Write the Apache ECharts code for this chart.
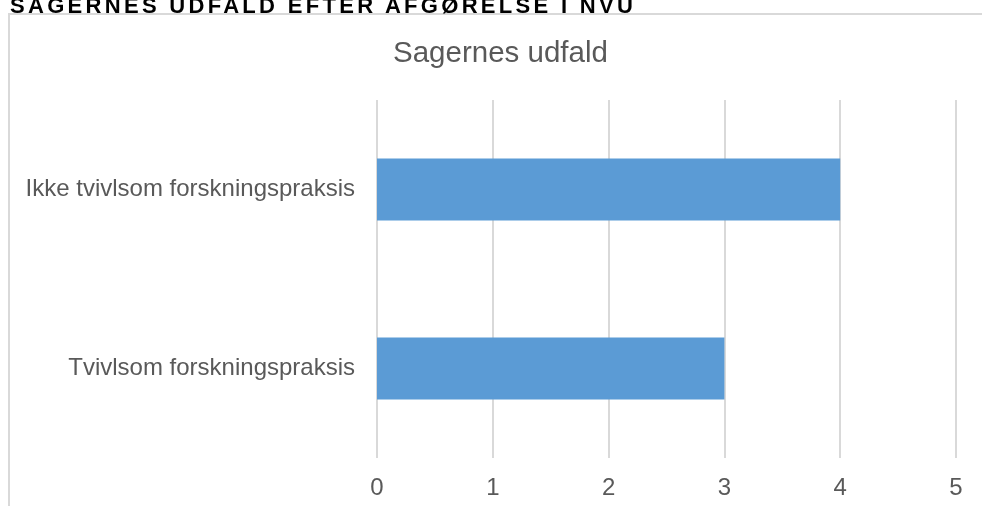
<!DOCTYPE html>
<html><head><meta charset="utf-8">
<script src="https://cdn.jsdelivr.net/npm/echarts@6/dist/echarts.min.js"></script>
<style>
html,body{margin:0;padding:0;background:#fff;}
#wrap{position:relative;width:982px;height:506px;overflow:hidden;}
#c{position:absolute;left:0;top:0;width:982px;height:506px;}
#hdr{position:absolute;left:10px;top:-5px;font-family:Arial,'Liberation Sans',sans-serif;font-size:22px;line-height:22px;font-weight:bold;letter-spacing:3.3px;color:#000;white-space:nowrap;z-index:2;}
</style>
</head><body><div id="wrap"><div id="c"></div><div id="hdr"></div></div>
<script>
const categories = ['Tvivlsom forskningspraksis', 'Ikke tvivlsom forskningspraksis'];
const values = [3, 4];
const headerText = 'SAGERNES UDFALD EFTER AFGØRELSE I NVU';
const chartTitle = 'Sagernes udfald';

document.getElementById('hdr').textContent = headerText;

const chart = echarts.init(document.getElementById('c'), null, {renderer: 'canvas'});
chart.setOption({
  animation: false,
  backgroundColor: '#fff',
  title: {
    text: chartTitle, left: 388, top: 34,
    textStyle: {fontFamily: 'Arial, Liberation Sans', fontSize: 29.5, fontWeight: 'normal', color: '#595959'}
  },
  graphic: [
    {type: 'rect', shape: {x: 9, y: 14, width: 990, height: 510}, style: {fill: 'none', stroke: '#d9d9d9', lineWidth: 2}, z: -1}
  ],
  grid: {left: 377, right: 26, top: 100, bottom: 48, containLabel: false},
  xAxis: {
    type: 'value', min: 0, max: 5, interval: 1,
    axisLine: {show: false}, axisTick: {show: false},
    splitLine: {lineStyle: {color: '#d9d9d9', width: 2}},
    axisLabel: {fontFamily: 'Arial, Liberation Sans', fontSize: 24, color: '#595959', margin: 18}
  },
  yAxis: {
    type: 'category', data: categories,
    axisLine: {show: false}, axisTick: {show: false},
    axisLabel: {fontFamily: 'Arial, Liberation Sans', fontSize: 24, color: '#595959', margin: 22}
  },
  series: [{
    type: 'bar', data: values, barWidth: 62,
    itemStyle: {color: '#5b9bd5'}
  }]
});
</script></body></html>
